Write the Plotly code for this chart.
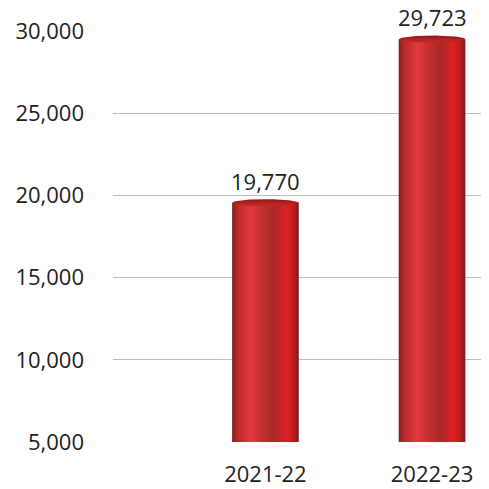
import numpy as np
import plotly.graph_objects as go

categories = ["2021-22", "2022-23"]
values = [19770, 29723]
y_ticks = [5000, 10000, 15000, 20000, 25000, 30000]

positions = [1, 2]
base = 5000
half_w = 0.2
cap_h = 220  # half-height of top ellipse in data units

body_scale = [
    [0.0, "#7e1f1f"],
    [0.08, "#b82a2a"],
    [0.28, "#e2393f"],
    [0.45, "#c42f30"],
    [0.62, "#a82828"],
    [0.82, "#e02024"],
    [0.93, "#b81c1c"],
    [1.0, "#7a1a1a"],
]

fig = go.Figure()
t = np.linspace(0, 2 * np.pi, 80)
for c, v in zip(positions, values):
    top = v - cap_h
    fig.add_trace(go.Scatter(
        x=[c - half_w, c + half_w, c + half_w, c - half_w, c - half_w],
        y=[base, base, top, top, base],
        fill="toself", mode="lines", line=dict(width=0),
        fillgradient=dict(type="horizontal", colorscale=body_scale),
        hoverinfo="skip", showlegend=False,
    ))
    fig.add_trace(go.Scatter(
        x=c + half_w * np.cos(t), y=top + cap_h * np.sin(t),
        fill="toself", mode="lines", line=dict(width=0),
        fillgradient=dict(type="vertical", colorscale=[[0, "#c32a2a"], [0.5, "#b02222"], [1, "#8e1616"]]),
        hoverinfo="skip", showlegend=False,
    ))
    fig.add_annotation(
        x=c, y=v, xref="x", yref="y", text=f"{v:,}", showarrow=False,
        yanchor="bottom", yshift=1.5,
        font=dict(family="Open Sans", size=22, color="#222"),
    )

fig.update_layout(
    width=481, height=481,
    margin=dict(l=105, r=0, t=23, b=47),
    plot_bgcolor="white", paper_bgcolor="white",
    font=dict(family="Open Sans", size=22, color="#222"),
    xaxis=dict(range=[0.085, 2.342], tickvals=positions, ticktext=categories,
               showgrid=False, zeroline=False, showline=False, ticks="",
               ticklabelstandoff=17, fixedrange=True),
    yaxis=dict(range=[5000, 30000], tickvals=y_ticks, tickformat=",",
               showgrid=True, gridcolor="#bdbdbd", gridwidth=1.3, zeroline=False,
               showline=False, ticks="", ticklabelstandoff=28, fixedrange=True),
)

fig.write_html("out.html")
